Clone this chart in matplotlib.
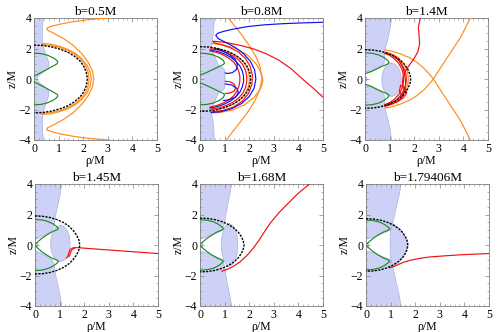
import numpy as np
import matplotlib
matplotlib.use('Agg')
import matplotlib.pyplot as plt
from matplotlib.patches import Polygon
from matplotlib.ticker import MultipleLocator

plt.rcParams['font.family'] = ['Liberation Serif', 'DejaVu Serif']
plt.rcParams['mathtext.fontset'] = 'stix'

TITLES = ["b=0.5M", "b=0.8M", "b=1.4M", "b=1.45M", "b=1.68M", "b=1.79406M"]
X_TICKS = [0, 1, 2, 3, 4, 5]
Y_TICKS = [-4, -2, 0, 2, 4]

FILL = '#cdd1f5'
EDGE = '#a9afe6'
ORANGE = '#ff8c1a'
RED = '#f01010'
BLUE = '#1010f0'
GREEN = '#1f8a1f'
FRAME = '#808080'

# ---------------- panel 1 : b = 0.5M ----------------
P1_STRIP = [(0.38, 4.0), (0.35, 3.4), (0.33, 2.8), (0.36, 2.3), (0.42, 1.9), (0.5, 1.55),
            (0.57, 1.25), (0.61, 1.0), (0.58, 0.75), (0.47, 0.55), (0.3, 0.35), (0.16, 0.17), (0.12, 0.0)]
P1_GREEN = [(0.0, 1.7), (0.3, 1.66), (0.55, 1.56), (0.77, 1.4), (0.92, 1.23), (0.97, 1.1), (0.93, 0.99),
            (0.76, 0.84), (0.52, 0.62), (0.28, 0.42), (0.08, 0.25), (0.0, 0.2)]
P1_BLACK = [(0.0, 2.22), (0.35, 2.2), (0.7, 2.11), (1.05, 1.96), (1.37, 1.76), (1.64, 1.5),
            (1.87, 1.18), (2.03, 0.82), (2.13, 0.42), (2.17, 0.0)]
P1_ORANGE_A = [(3.07, 4.0), (2.6, 3.95), (2.1, 3.87), (1.6, 3.76), (1.1, 3.61), (0.72, 3.46), (0.52, 3.34),
               (0.55, 3.2), (0.8, 3.0), (1.2, 2.65), (1.6, 2.2), (1.95, 1.65), (2.2, 1.1), (2.37, 0.55), (2.43, 0.0)]
P1_ORANGE_B = [(0.35, 2.33), (0.7, 2.27), (1.05, 2.14), (1.4, 1.93), (1.7, 1.66), (1.95, 1.32),
               (2.15, 0.92), (2.28, 0.47), (2.33, 0.0)]
P1_ORANGE_C = [(0.3, 2.27), (0.7, 2.2), (1.05, 2.07), (1.4, 1.86), (1.68, 1.6), (1.91, 1.27),
               (2.09, 0.89), (2.2, 0.45), (2.24, 0.0)]

# ---------------- panel 2 : b = 0.8M ----------------
P2_STRIP = [(0.58, 4.0), (0.56, 3.3), (0.52, 2.7), (0.47, 2.3), (0.48, 2.0), (0.55, 1.65), (0.63, 1.35),
            (0.7, 1.08), (0.78, 0.85), (0.92, 0.75), (1.0, 0.6), (1.02, 0.3), (1.02, 0.0)]
P2_GREEN = [(0.0, 1.7), (0.3, 1.66), (0.55, 1.57), (0.78, 1.41), (0.94, 1.23), (1.0, 1.05), (0.95, 0.95),
            (0.78, 0.82), (0.55, 0.64), (0.3, 0.45), (0.08, 0.3), (0.0, 0.26)]
P2_BLACK = [(0.0, 2.12), (0.35, 2.1), (0.7, 2.01), (1.03, 1.86), (1.33, 1.66), (1.58, 1.41),
            (1.79, 1.11), (1.94, 0.77), (2.03, 0.39), (2.06, 0.0)]
P2_BLUE_ESC = [(5.0, 3.72), (4.2, 3.68), (3.4, 3.63), (2.6, 3.55), (1.9, 3.43), (1.35, 3.27), (0.95, 3.12),
               (0.72, 3.0), (0.64, 2.86), (0.75, 2.64), (1.05, 2.4), (1.42, 2.08), (1.78, 1.65), (2.05, 1.15),
               (2.22, 0.6), (2.27, 0.0), (2.2, -0.6), (2.0, -1.15), (1.7, -1.6), (1.28, -1.95), (0.82, -2.15),
               (0.45, -2.2)]
P2_RED_ESC = [(5.0, -1.2), (4.6, -0.6), (4.2, -0.05), (3.7, 0.68), (3.2, 1.24), (2.7, 1.65), (2.2, 1.96),
              (1.7, 2.18), (1.2, 2.35), (0.8, 2.44), (0.52, 2.48), (0.56, 2.38), (0.85, 2.26), (1.22, 2.06),
              (1.55, 1.78), (1.84, 1.36), (2.04, 0.82), (2.13, 0.26), (2.11, -0.35), (1.97, -0.95),
              (1.72, -1.45), (1.36, -1.84), (0.92, -2.07), (0.5, -2.14)]
P2_ORANGE_1 = [(1.08, -4.0), (1.35, -3.4), (1.65, -2.8), (1.95, -2.15), (2.22, -1.45), (2.42, -0.75),
               (2.52, 0.0), (2.45, 0.75), (2.28, 1.45), (2.02, 2.15), (1.72, 2.85), (1.42, 3.45), (1.15, 4.0)]
P2_ORANGE_2 = [(0.5, 2.32), (1.0, 2.22), (1.5, 1.98), (1.95, 1.55), (2.3, 0.95), (2.5, 0.35), (2.56, -0.1),
               (2.46, -0.65), (2.2, -1.2), (1.8, -1.7), (1.3, -2.05), (0.8, -2.2), (0.45, -2.22)]
P2_ARC_ORANGE = [(0.45, 2.05), (0.8, 1.96), (1.13, 1.8), (1.42, 1.58), (1.66, 1.3), (1.84, 0.96),
                 (1.95, 0.58), (2.0, 0.2), (2.0, 0.0)]
P2_ARC_RED = [(0.42, 1.98), (0.75, 1.9), (1.06, 1.74), (1.34, 1.52), (1.57, 1.25), (1.74, 0.93),
              (1.85, 0.56), (1.9, 0.19), (1.9, 0.0)]
P2_ARC_BLUE = [(0.4, 1.9), (0.72, 1.8), (1.0, 1.64), (1.26, 1.42), (1.46, 1.16), (1.62, 0.86),
               (1.72, 0.52), (1.77, 0.18), (1.77, 0.0)]
P2_ARC_RED2 = [(0.4, 1.85), (0.68, 1.74), (0.95, 1.57), (1.18, 1.36), (1.37, 1.1), (1.5, 0.8),
               (1.58, 0.48), (1.62, 0.16), (1.62, 0.0)]
P2_LOOP_BLUE_U = [(0.62, 2.0), (0.9, 1.85), (1.2, 1.6), (1.42, 1.3), (1.52, 0.95), (1.48, 0.62),
                  (1.32, 0.42), (1.12, 0.36), (1.02, 0.4)]
P2_LOOP_RED_L = [(1.02, -0.15), (1.22, -0.18), (1.38, -0.32), (1.45, -0.55), (1.4, -0.78),
                 (1.22, -0.92), (1.02, -0.95)]
P2_LOOP_BLUE_L = [(1.02, -0.32), (1.3, -0.4), (1.5, -0.62), (1.56, -0.9), (1.45, -1.18),
                  (1.2, -1.35), (0.95, -1.42)]

# ---------------- panel 3 : b = 1.4M ----------------
P3_STRIP = [(1.08, 4.0), (1.02, 3.3), (0.94, 2.7), (0.86, 2.2), (0.8, 1.85), (0.79, 1.5), (0.8, 1.2),
            (0.76, 0.98), (0.6, 0.82), (0.38, 0.64), (0.15, 0.48), (0.0, 0.42)]
P3_NOTCH = [(0.0, 0.18), (0.07, 0.12), (0.09, 0.0), (0.07, -0.12), (0.0, -0.18)]
P3_BLOB = [(1.08, 1.05), (1.23, 0.97), (1.36, 0.73), (1.45, 0.37), (1.48, -0.05), (1.45, -0.47),
           (1.36, -0.83), (1.23, -1.07), (1.08, -1.15), (0.93, -1.07), (0.8, -0.83), (0.71, -0.47),
           (0.68, -0.05), (0.71, 0.37), (0.8, 0.73), (0.93, 0.97)]
P3_GREEN = [(0.0, 1.72), (0.3, 1.68), (0.55, 1.58), (0.77, 1.41), (0.92, 1.22), (0.98, 1.08), (0.92, 0.98),
            (0.74, 0.86), (0.5, 0.68), (0.27, 0.5), (0.07, 0.38), (0.0, 0.35)]
P3_BLACK = [(0.0, 1.92), (0.32, 1.9), (0.63, 1.82), (0.92, 1.68), (1.18, 1.5), (1.41, 1.26),
            (1.6, 0.97), (1.74, 0.64), (1.83, 0.3), (1.86, 0.0)]
P3_RED_ESC = [(2.25, 4.0), (2.17, 3.4), (2.2, 2.8), (2.22, 2.3), (2.15, 1.8), (2.0, 1.35), (1.82, 0.95),
              (1.65, 0.55), (1.55, 0.15), (1.52, -0.3), (1.58, -0.7), (1.55, -1.1), (1.38, -1.42),
              (1.1, -1.65), (0.82, -1.8)]
P3_ARC_RED1 = [(0.82, 1.72), (1.05, 1.6), (1.27, 1.38), (1.45, 1.08), (1.58, 0.72), (1.66, 0.36), (1.68, 0.0)]
P3_ARC_RED2 = [(0.8, 1.68), (1.0, 1.55), (1.2, 1.32), (1.37, 1.02), (1.49, 0.68), (1.55, 0.34), (1.57, 0.0)]
P3_ARC_ORANGE = [(0.84, 1.76), (1.1, 1.64), (1.33, 1.42), (1.52, 1.12), (1.66, 0.75), (1.74, 0.37), (1.76, 0.0)]
P3_RED_KNOT = [(1.15, 1.55), (1.38, 1.2), (1.55, 0.7), (1.62, 0.2), (1.65, -0.3), (1.62, -0.75),
               (1.5, -1.1), (1.4, -0.8), (1.45, -0.4), (1.6, -0.6), (1.7, -0.9), (1.55, -1.25), (1.25, -1.55)]
P3_ORANGE_X1 = [(0.8, 1.9), (1.1, 1.82), (1.45, 1.64), (1.83, 1.38), (2.12, 1.08), (2.4, 0.7), (2.6, 0.35),
                (2.78, 0.0), (3.05, -0.68), (3.33, -1.37), (3.6, -2.03), (3.87, -2.69), (4.08, -3.35),
                (4.28, -4.0)]
P3_ORANGE_X2 = [(0.8, -1.9), (1.1, -1.82), (1.45, -1.64), (1.83, -1.38), (2.12, -1.08), (2.4, -0.7),
                (2.6, -0.35), (2.78, 0.0), (3.05, 0.68), (3.33, 1.37), (3.6, 2.03), (3.87, 2.69),
                (4.08, 3.35), (4.28, 4.0)]

# ---------------- panel 4 : b = 1.45M ----------------
P4_STRIP = [(1.09, 4.0), (1.02, 3.3), (0.94, 2.7), (0.87, 2.2), (0.82, 1.8), (0.8, 1.5), (0.76, 1.2),
            (0.68, 0.95), (0.55, 0.8), (0.38, 0.65), (0.2, 0.5), (0.05, 0.38), (0.0, 0.36)]
P4_NOTCH = [(0.0, 0.2), (0.08, 0.13), (0.1, 0.0), (0.08, -0.13), (0.0, -0.2)]
P4_BLOB = [(1.03, 1.3), (1.18, 1.21), (1.31, 0.95), (1.4, 0.56), (1.43, 0.1), (1.4, -0.36), (1.31, -0.75),
           (1.18, -1.01), (1.03, -1.1), (0.88, -1.01), (0.75, -0.75), (0.66, -0.36), (0.63, 0.1),
           (0.66, 0.56), (0.75, 0.95), (0.88, 1.21)]
P4_GREEN = [(0.0, 1.68), (0.3, 1.64), (0.55, 1.53), (0.76, 1.36), (0.9, 1.18), (0.95, 1.07), (0.88, 0.98),
            (0.7, 0.87), (0.48, 0.66), (0.28, 0.44), (0.12, 0.22), (0.04, 0.08)]
P4_BLACK = [(0.0, 1.9), (0.32, 1.88), (0.62, 1.8), (0.9, 1.66), (1.16, 1.47), (1.38, 1.23),
            (1.56, 0.94), (1.7, 0.62), (1.79, 0.3), (1.82, 0.0)]
P4_RED = [(5.0, -0.56), (4.4, -0.49), (3.8, -0.42), (3.2, -0.35), (2.6, -0.28), (2.1, -0.22), (1.8, -0.18),
          (1.6, -0.17), (1.48, -0.22), (1.41, -0.35), (1.38, -0.52), (1.35, -0.7), (1.28, -0.86)]
P4_RED2 = [(1.62, -0.2), (1.52, -0.28), (1.46, -0.42), (1.43, -0.6), (1.37, -0.78)]

# ---------------- panel 5 : b = 1.68M ----------------
P5_STRIP = [(1.29, 4.0), (1.21, 3.3), (1.12, 2.6), (1.05, 2.0), (1.02, 1.6), (0.97, 1.25), (0.9, 0.95),
            (0.7, 0.8), (0.45, 0.64), (0.22, 0.5), (0.05, 0.4), (0.0, 0.38)]
P5_NOTCH = [(0.0, 0.2), (0.08, 0.13), (0.1, 0.0), (0.08, -0.13), (0.0, -0.2)]
P5_BLOB = [(1.2, 1.4), (1.33, 1.29), (1.44, 0.99), (1.51, 0.54), (1.54, 0.0), (1.51, -0.54), (1.44, -0.99),
           (1.33, -1.29), (1.2, -1.4), (1.07, -1.29), (0.96, -0.99), (0.89, -0.54), (0.86, 0.0),
           (0.89, 0.54), (0.96, 0.99), (1.07, 1.29)]
P5_GREEN = [(0.0, 1.66), (0.3, 1.62), (0.55, 1.52), (0.76, 1.35), (0.9, 1.17), (0.95, 1.06), (0.88, 0.97),
            (0.7, 0.86), (0.48, 0.65), (0.28, 0.43), (0.12, 0.21), (0.04, 0.08)]
P5_BLACK = [(0.0, 1.76), (0.32, 1.74), (0.62, 1.66), (0.9, 1.53), (1.15, 1.35), (1.37, 1.12),
            (1.55, 0.85), (1.68, 0.55), (1.76, 0.26), (1.79, 0.0)]
P5_RED = [(4.45, 4.0), (4.0, 3.4), (3.6, 2.76), (3.2, 2.1), (2.85, 1.42), (2.6, 0.82), (2.38, 0.27),
          (2.15, -0.24), (1.9, -0.7), (1.63, -1.1), (1.36, -1.4), (1.1, -1.6), (0.88, -1.72)]

# ---------------- panel 6 : b = 1.79406M ----------------
P6_STRIP = [(1.43, 4.0), (1.35, 3.3), (1.25, 2.6), (1.16, 1.95), (1.08, 1.4), (1.02, 0.98), (0.82, 0.86),
            (0.55, 0.68), (0.3, 0.52), (0.08, 0.4), (0.0, 0.38)]
P6_NOTCH = [(0.0, 0.2), (0.08, 0.13), (0.1, 0.0), (0.08, -0.13), (0.0, -0.2)]
P6_BLOB = [(1.0, 1.47), (1.12, 1.38), (1.32, 1.13), (1.48, 0.84), (1.6, 0.5), (1.66, 0.18), (1.67, 0.0),
           (1.66, -0.18), (1.6, -0.5), (1.48, -0.84), (1.32, -1.13), (1.12, -1.38), (1.0, -1.47),
           (0.99, -0.9), (0.98, 0.0), (0.99, 0.9)]
P6_GREEN = [(0.0, 1.64), (0.3, 1.6), (0.55, 1.5), (0.76, 1.34), (0.9, 1.17), (0.96, 1.06), (0.9, 0.97),
            (0.72, 0.86), (0.5, 0.66), (0.3, 0.44), (0.13, 0.22), (0.05, 0.08)]
P6_BLACK = [(0.0, 1.72), (0.31, 1.7), (0.6, 1.62), (0.87, 1.49), (1.11, 1.31), (1.32, 1.09),
            (1.49, 0.82), (1.61, 0.53), (1.68, 0.25), (1.7, 0.0)]
P6_RED = [(5.0, -0.56), (4.4, -0.6), (3.98, -0.63), (3.3, -0.7), (2.62, -0.78), (2.2, -0.87),
          (1.81, -1.0), (1.55, -1.12), (1.35, -1.25), (1.15, -1.4), (0.95, -1.5)]


def arr(pts):
    return np.array(pts, dtype=float)


def flip(pts):
    a = arr(pts).copy()
    a[:, 1] *= -1
    return a


def mirror(half):
    """upper half (top -> z=0) to full curve (top -> bottom)."""
    h = arr(half)
    lo = flip(half)[::-1]
    if h[-1, 1] == 0:
        lo = lo[1:]
    return np.vstack([h, lo])


def draw_region(ax, strip, blob=None, notch=None):
    h = arr(strip)
    if h[-1, 0] == 0:
        up = np.vstack([[0, 4], h])
        polys = [up, flip(up)]
        edges = [h, flip(h)]
    else:
        full = mirror(strip)
        polys = [np.vstack([[0, 4], full, [0, -4]])]
        edges = [full]
    for extra in (blob, notch):
        if extra is not None:
            e = arr(extra)
            polys.append(e)
            edges.append(np.vstack([e, e[:1]]) if extra is blob else e)
    for p in polys:
        ax.add_patch(Polygon(p, closed=True, facecolor=FILL, edgecolor='none', zorder=1))
    for e in edges:
        ax.plot(e[:, 0], e[:, 1], color=EDGE, lw=0.5, zorder=1.5)


def line(ax, pts, color, lw=0.85, z=3):
    a = arr(pts)
    ax.plot(a[:, 0], a[:, 1], color=color, lw=lw, zorder=z, solid_capstyle='round')


def green(ax, half):
    line(ax, half, GREEN)
    a = flip(half)
    ax.plot(a[:, 0], a[:, 1], color=GREEN, lw=0.85, zorder=3)


def black(ax, half):
    a = mirror(half)
    ax.plot(a[:, 0], a[:, 1], color='black', lw=1.0, zorder=5, dashes=(1.6, 0.9))


fig = plt.figure(figsize=(4.98, 3.32), dpi=100)
POS = [(34, 18), (200, 18), (365, 18), (35, 184), (200, 184), (366, 184)]
W, H = 123, 122
axes = []
for i, (px, py) in enumerate(POS):
    ax = fig.add_axes([px / 498, 1 - (py + H) / 332, W / 498, H / 332])
    ax.set_xlim(0, 5)
    ax.set_ylim(-4, 4)
    ax.set_xticks(X_TICKS)
    ax.set_yticks(Y_TICKS)
    ax.xaxis.set_minor_locator(MultipleLocator(0.2))
    ax.yaxis.set_minor_locator(MultipleLocator(0.5))
    ax.tick_params(which='both', direction='in', top=True, right=True, labelsize=8.5,
                   color=FRAME, pad=2)
    ax.tick_params(which='major', length=3, width=0.5)
    ax.tick_params(which='minor', length=1.5, width=0.4)
    for s in ax.spines.values():
        s.set_color(FRAME)
        s.set_linewidth(0.6)
    ax.set_title(TITLES[i], fontsize=9.5, pad=2)
    ax.set_xlabel('ρ/M', fontsize=8.5, labelpad=0)
    ax.set_ylabel('z/M', fontsize=8.5, labelpad=0)
    axes.append(ax)

# panel 1
ax = axes[0]
draw_region(ax, P1_STRIP)
green(ax, P1_GREEN)
line(ax, mirror(P1_ORANGE_A), ORANGE)
line(ax, mirror(P1_ORANGE_B), ORANGE)
line(ax, mirror(P1_ORANGE_C), ORANGE)
black(ax, P1_BLACK)

# panel 2
ax = axes[1]
draw_region(ax, P2_STRIP)
green(ax, P2_GREEN)
line(ax, P2_ORANGE_1, ORANGE)
line(ax, P2_ORANGE_2, ORANGE)
line(ax, mirror(P2_ARC_ORANGE), ORANGE)
line(ax, mirror(P2_ARC_RED), RED)
line(ax, mirror(P2_ARC_BLUE), BLUE)
line(ax, mirror(P2_ARC_RED2), RED)
line(ax, P2_LOOP_BLUE_U, BLUE)
line(ax, P2_LOOP_RED_L, RED)
line(ax, P2_LOOP_BLUE_L, BLUE)
line(ax, P2_RED_ESC, RED)
line(ax, P2_BLUE_ESC, BLUE)
black(ax, P2_BLACK)

# panel 3
ax = axes[2]
draw_region(ax, P3_STRIP, P3_BLOB, P3_NOTCH)
green(ax, P3_GREEN)
line(ax, P3_ORANGE_X1, ORANGE)
line(ax, P3_ORANGE_X2, ORANGE)
line(ax, mirror(P3_ARC_ORANGE), ORANGE)
line(ax, mirror(P3_ARC_RED1), RED)
line(ax, mirror(P3_ARC_RED2), RED)
line(ax, P3_RED_KNOT, RED)
line(ax, P3_RED_ESC, RED)
black(ax, P3_BLACK)

# panel 4
ax = axes[3]
draw_region(ax, P4_STRIP, P4_BLOB, P4_NOTCH)
green(ax, P4_GREEN)
line(ax, P4_RED, RED)
line(ax, P4_RED2, RED)
black(ax, P4_BLACK)

# panel 5
ax = axes[4]
draw_region(ax, P5_STRIP, P5_BLOB, P5_NOTCH)
green(ax, P5_GREEN)
line(ax, P5_RED, RED)
black(ax, P5_BLACK)

# panel 6
ax = axes[5]
draw_region(ax, P6_STRIP, P6_BLOB, P6_NOTCH)
green(ax, P6_GREEN)
line(ax, P6_RED, RED)
black(ax, P6_BLACK)

fig.savefig('out.png', dpi=100)
